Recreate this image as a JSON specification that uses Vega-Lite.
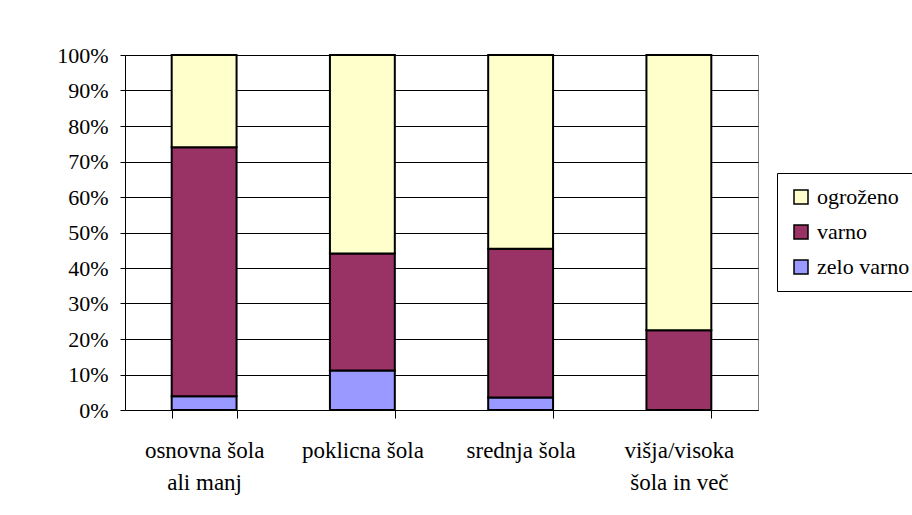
{
  "$schema": "https://vega.github.io/schema/vega-lite/v6.json",
  "autosize": "none",
  "width": 633,
  "height": 355,
  "padding": {"left": 125, "top": 55, "right": 154, "bottom": 105},
  "background": "white",
  "data": {
    "values": [
      {"izobrazba": "osnovna šola ali manj", "ocena": "zelo varno", "red": 1, "delez": 3.9},
      {"izobrazba": "osnovna šola ali manj", "ocena": "varno", "red": 2, "delez": 70.1},
      {"izobrazba": "osnovna šola ali manj", "ocena": "ogroženo", "red": 3, "delez": 26.0},
      {"izobrazba": "poklicna šola", "ocena": "zelo varno", "red": 1, "delez": 11.1},
      {"izobrazba": "poklicna šola", "ocena": "varno", "red": 2, "delez": 33.0},
      {"izobrazba": "poklicna šola", "ocena": "ogroženo", "red": 3, "delez": 55.9},
      {"izobrazba": "srednja šola", "ocena": "zelo varno", "red": 1, "delez": 3.5},
      {"izobrazba": "srednja šola", "ocena": "varno", "red": 2, "delez": 41.9},
      {"izobrazba": "srednja šola", "ocena": "ogroženo", "red": 3, "delez": 54.6},
      {"izobrazba": "višja/visoka šola in več", "ocena": "zelo varno", "red": 1, "delez": 0},
      {"izobrazba": "višja/visoka šola in več", "ocena": "varno", "red": 2, "delez": 22.5},
      {"izobrazba": "višja/visoka šola in več", "ocena": "ogroženo", "red": 3, "delez": 77.5}
    ]
  },
  "mark": {"type": "bar", "stroke": "black", "strokeWidth": 2},
  "encoding": {
    "x": {
      "field": "izobrazba",
      "type": "nominal",
      "sort": null,
      "scale": {"paddingInner": 0.59, "paddingOuter": 0.295},
      "axis": {
        "title": null,
        "labelAngle": 0,
        "labelFont": "Liberation Serif",
        "labelFontSize": 23,
        "labelColor": "black",
        "labelLineHeight": 32,
        "labelPadding": 32,
        "labelBaseline": "middle",
        "tickBand": "extent",
        "tickSize": 8,
        "tickColor": "black",
        "domainColor": "black",
        "labelExpr": "datum.label == 'osnovna šola ali manj' ? ['osnovna šola', 'ali manj'] : datum.label == 'višja/visoka šola in več' ? ['višja/visoka', 'šola in več'] : datum.label"
      }
    },
    "y": {
      "field": "delez",
      "type": "quantitative",
      "stack": "normalize",
      "scale": {"domain": [0, 1]},
      "axis": {
        "title": null,
        "format": ".0%",
        "values": [0, 0.1, 0.2, 0.3, 0.4, 0.5, 0.6, 0.7, 0.8, 0.9, 1],
        "labelFont": "Liberation Serif",
        "labelFontSize": 22,
        "labelColor": "black",
        "labelPadding": 12,
        "tickSize": 5,
        "tickColor": "black",
        "domainColor": "black",
        "grid": true,
        "gridColor": "black",
        "gridOpacity": 1
      }
    },
    "color": {
      "field": "ocena",
      "type": "nominal",
      "scale": {
        "domain": ["ogroženo", "varno", "zelo varno"],
        "range": ["#FFFFCC", "#993366", "#9999FF"]
      },
      "legend": {
        "title": null,
        "orient": "none",
        "legendX": 652,
        "legendY": 118,
        "padding": 13,
        "strokeColor": "black",
        "fillColor": "white",
        "symbolType": "square",
        "symbolSize": 196,
        "symbolStrokeColor": "black",
        "symbolStrokeWidth": 1.5,
        "rowPadding": 13,
        "labelFont": "Liberation Serif",
        "labelFontSize": 22,
        "labelColor": "black",
        "labelOffset": 5,
        "symbolOffset": 0
      }
    },
    "order": {"field": "red", "type": "quantitative"}
  },
  "config": {
    "view": {"stroke": "#808080", "strokeWidth": 1}
  }
}
